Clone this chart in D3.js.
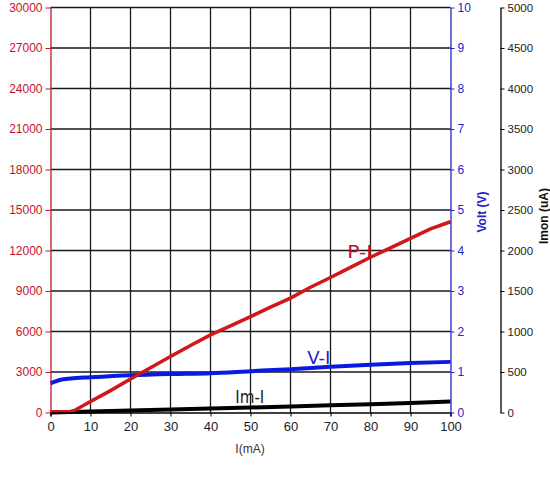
<!DOCTYPE html>
<html><head><meta charset="utf-8">
<script src="https://cdn.jsdelivr.net/npm/d3@7"></script>
<style>
html,body{margin:0;padding:0;background:#fff;}
svg{display:block;font-family:"Liberation Sans",Arial,sans-serif;}
</style></head>
<body><svg id="c" width="550" height="480"></svg>
<script>
// ---- data ----
const currentMA = [0,2,5,6,10,15,20,25,30,35,40,45,50,55,60,65,70,75,80,85,90,95,100];
const powerUW   = [50,50,80,150,820,1620,2480,3320,4150,4960,5750,6420,7100,7800,8470,9280,10000,10750,11500,12200,12900,13600,14130];
const voltI     = [0,1,2.5,5,10,20,30,40,50,60,70,80,90,100];
const voltV     = [0.72,0.76,0.81,0.84,0.87,0.92,0.95,0.97,1.02,1.07,1.13,1.18,1.22,1.25];
const imonI     = [0,5,10,20,30,40,50,60,70,80,90,100];
const imonUA    = [0,5,12,24,36,49,62,75,88,102,118,135];
const xTicks    = [0,10,20,30,40,50,60,70,80,90,100];
const pTicks    = [0,3000,6000,9000,12000,15000,18000,21000,24000,27000,30000];
const vTicks    = [0,1,2,3,4,5,6,7,8,9,10];
const iTicks    = [0,500,1000,1500,2000,2500,3000,3500,4000,4500,5000];

const svg = d3.select("#c");
const L=50.5, R=450.5, T=7.5, B=412.5;
const x  = d3.scaleLinear().domain([0,100]).range([L,R]);
const yP = d3.scaleLinear().domain([0,30000]).range([B,T]);
const yV = d3.scaleLinear().domain([0,10]).range([B,T]);
const yI = d3.scaleLinear().domain([0,5000]).range([B,T]);
const fmt = d3.format("d");

const red="#c8102e", blue="#2424c8";

// grid
const g = svg.append("g");
g.selectAll("line.v").data(xTicks.slice(1,-1)).join("line")
  .attr("x1",d=>x(d)).attr("x2",d=>x(d)).attr("y1",T).attr("y2",B)
  .attr("stroke","#1a1a1a").attr("stroke-width",1.3);
g.selectAll("line.h").data(pTicks.slice(1)).join("line")
  .attr("x1",L).attr("x2",R).attr("y1",d=>yP(d)).attr("y2",d=>yP(d))
  .attr("stroke","#1a1a1a").attr("stroke-width",1.3);

// series
const line = (ys)=>d3.line().x(d=>x(d[0])).y(d=>ys(d[1]));
svg.append("path").datum(imonI.map((v,i)=>[v,imonUA[i]]))
  .attr("d",line(yI)).attr("fill","none").attr("stroke","#000").attr("stroke-width",4);
svg.append("path").datum(voltI.map((v,i)=>[v,voltV[i]]))
  .attr("d",line(yV).curve(d3.curveMonotoneX)).attr("fill","none").attr("stroke","#0a1ae0").attr("stroke-width",4);
svg.append("path").datum(currentMA.map((v,i)=>[v,powerUW[i]]))
  .attr("d",line(yP)).attr("fill","none").attr("stroke","#d01818").attr("stroke-width",3.5);

// series labels
function lab(t,xv,yv,col,w){
  svg.append("text").text(t).attr("x",x(xv)).attr("y",yv)
    .attr("fill",col).attr("font-size",17).attr("font-family","'DejaVu Sans Condensed','Liberation Sans',sans-serif")
    .attr("textLength",w).attr("lengthAdjust","spacingAndGlyphs");
}
lab("P-I",74.2,258,"#c01030",25);
lab("V-I",64.2,364,"#2222d0",23);
lab("Im-I",46.2,403,"#222",29);

// axes
const fs = 12;
// bottom
const ax = svg.append("g").attr("transform",`translate(0,${B})`)
  .call(d3.axisBottom(x).tickValues(xTicks).tickFormat(fmt).tickSize(4).tickPadding(5));
ax.select(".domain").attr("stroke","#000").attr("stroke-width",1.3);
ax.selectAll("line").attr("stroke","#000");
ax.selectAll("text").attr("font-size",fs+1).attr("fill","#222");
svg.append("text").text("I(mA)").attr("x",250).attr("y",453).attr("text-anchor","middle")
  .attr("font-size",12).attr("fill","#333");

// left
const al = svg.append("g").attr("transform",`translate(${L},0)`)
  .call(d3.axisLeft(yP).tickValues(pTicks).tickFormat(fmt).tickSize(5).tickPadding(3).tickSizeOuter(0));
al.select(".domain").attr("stroke",red).attr("stroke-width",1.3);
al.selectAll("line").attr("stroke",red);
al.selectAll("text").attr("font-size",fs).attr("fill",red);

// volt axis
const av = svg.append("g").attr("transform",`translate(${R},0)`)
  .call(d3.axisRight(yV).tickValues(vTicks).tickFormat(fmt).tickSize(4).tickPadding(3).tickSizeOuter(0));
av.select(".domain").attr("stroke",blue).attr("stroke-width",1.3);
av.selectAll("line").attr("stroke",blue);
av.selectAll("text").attr("font-size",fs).attr("fill",blue);
svg.append("text").text("Volt (V)").attr("transform","translate(486,212) rotate(-90)")
  .attr("text-anchor","middle").attr("font-size",12).attr("font-weight","bold").attr("fill",blue);

// imon axis
const ai = svg.append("g").attr("transform",`translate(500.5,0)`)
  .call(d3.axisRight(yI).tickValues(iTicks).tickFormat(fmt).tickSize(4).tickPadding(3).tickSizeOuter(0));
ai.select(".domain").attr("stroke","#000").attr("stroke-width",1.3);
ai.selectAll("line").attr("stroke","#000");
ai.selectAll("text").attr("font-size",fs-0.5).attr("fill","#222");
svg.append("text").text("Imon (uA)").attr("transform","translate(548,216) rotate(-90)")
  .attr("text-anchor","middle").attr("font-size",12).attr("font-weight","bold").attr("fill","#111");
</script></body></html>
